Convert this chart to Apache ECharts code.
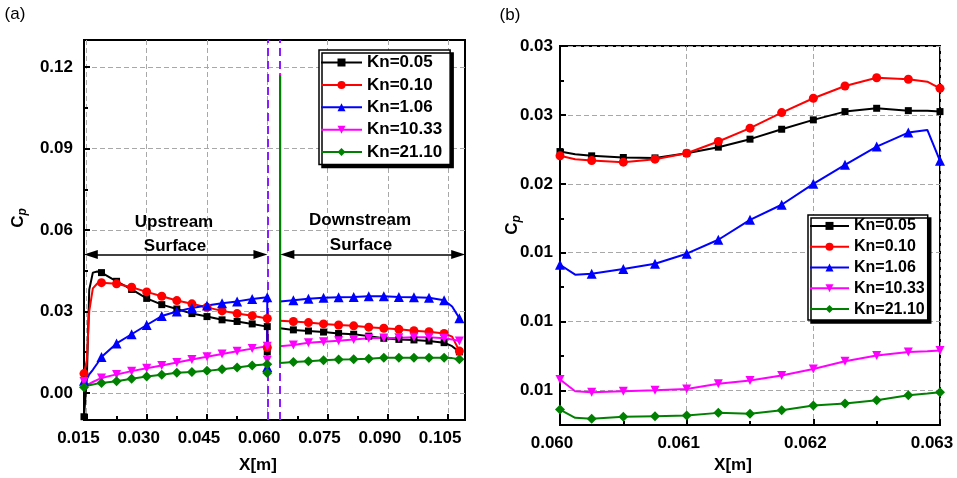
<!DOCTYPE html>
<html>
<head>
<meta charset="utf-8">
<script src="https://cdn.jsdelivr.net/npm/echarts@6/dist/echarts.min.js"></script>
<style>
  html, body { margin: 0; padding: 0; background: #fff; }
  #chart { width: 957px; height: 478px; }
</style>
</head>
<body>
<div id="chart"></div>
<script>
const FONT = 'Liberation Sans, Arial, sans-serif';

const names = ['Kn=0.05', 'Kn=0.10', 'Kn=1.06', 'Kn=10.33', 'Kn=21.10'];
const colors = ['#000000', '#ff0000', '#0000ff', '#ff00ff', '#008000'];
const symbols = ['rect', 'circle', 'triangle', 'path://M0,0L10,0L5,9Z', 'diamond'];
const symbolSizes = [7, 9, 10, 9, 10];

// panel (a) upstream surface
const upX = [0.0144, 0.0151, 0.0157, 0.0166, 0.0177, 0.01875, 0.0225, 0.02625, 0.030, 0.03375, 0.0375, 0.04125, 0.045, 0.04875, 0.0525, 0.05625, 0.060, 0.060];
const upMark = [1, 0, 0, 0, 0, 1, 1, 1, 1, 1, 1, 1, 1, 1, 1, 1, 1, 1];
const upKn005 = [-0.0088, 0.005, 0.038, 0.0443, 0.0447, 0.0443, 0.0411, 0.0381, 0.0348, 0.0325, 0.0309, 0.0292, 0.0281, 0.0269, 0.0263, 0.0254, 0.0244, 0.0151];
const upKn010 = [0.0071, 0.012, 0.030, 0.0385, 0.0403, 0.0406, 0.0402, 0.0389, 0.0372, 0.0356, 0.0340, 0.0328, 0.0315, 0.0302, 0.0292, 0.0284, 0.0274, 0.0167];
const upKn106 = [0.0045, 0.005, 0.0068, 0.0085, 0.0108, 0.0132, 0.0182, 0.0216, 0.0250, 0.0283, 0.0300, 0.0313, 0.0322, 0.0330, 0.0337, 0.0346, 0.0352, 0.0095];
const upKn1033 = [0.0042, 0.0033, 0.0033, 0.0040, 0.0048, 0.0055, 0.0068, 0.0080, 0.0091, 0.0101, 0.0112, 0.0123, 0.0133, 0.0143, 0.0153, 0.0163, 0.0172, 0.0120];
const upKn2110 = [0.0021, 0.0025, 0.0028, 0.0031, 0.0034, 0.0036, 0.0043, 0.0052, 0.0060, 0.0067, 0.0074, 0.0077, 0.0081, 0.0087, 0.0093, 0.0101, 0.0105, 0.0073];

// panel (a) downstream surface
const downX = [0.0632, 0.0632, 0.0665, 0.07025, 0.074, 0.07775, 0.0815, 0.08525, 0.089, 0.09275, 0.0965, 0.10025, 0.104, 0.106, 0.1078];
const downMark = [0, 0, 1, 1, 1, 1, 1, 1, 1, 1, 1, 1, 1, 0, 1];
const downKn005 = [null, 0.0238, 0.0232, 0.0228, 0.0224, 0.0219, 0.0216, 0.0209, 0.0201, 0.0197, 0.0195, 0.0191, 0.0185, 0.0172, 0.0151];
const downKn010 = [null, 0.0266, 0.0263, 0.0259, 0.0254, 0.0250, 0.0247, 0.0242, 0.0238, 0.0234, 0.0229, 0.0225, 0.0219, 0.0207, 0.0154];
const downKn106 = [null, 0.0337, 0.0341, 0.0347, 0.0350, 0.0352, 0.0353, 0.0356, 0.0356, 0.0353, 0.0352, 0.0350, 0.0341, 0.0318, 0.0275];
const downKn1033 = [0.1178, 0.0172, 0.0176, 0.0185, 0.0188, 0.0192, 0.0197, 0.0201, 0.0202, 0.0203, 0.0205, 0.0205, 0.0201, 0.0197, 0.0191];
const downKn2110 = [0.1170, 0.0110, 0.0114, 0.0116, 0.0120, 0.0123, 0.0124, 0.0126, 0.0129, 0.0129, 0.0129, 0.0129, 0.0129, 0.0128, 0.0124];

// panel (b) zoom 0.060 - 0.063
const bX = [0.060, 0.06012, 0.06025, 0.0605, 0.06075, 0.061, 0.06125, 0.0615, 0.06175, 0.062, 0.06225, 0.0625, 0.06275, 0.0629, 0.063];
const bMark = [1, 0, 1, 1, 1, 1, 1, 1, 1, 1, 1, 1, 1, 0, 1];
const bKn005 = [0.02234, 0.02215, 0.02203, 0.02191, 0.02188, 0.02222, 0.02266, 0.02324, 0.02396, 0.02464, 0.02524, 0.02548, 0.02531, 0.0253, 0.02524];
const bKn010 = [0.02203, 0.02179, 0.02169, 0.02157, 0.02179, 0.02222, 0.02307, 0.02404, 0.02517, 0.02621, 0.0271, 0.0277, 0.02759, 0.02741, 0.02693];
const bKn106 = [0.01413, 0.01341, 0.01348, 0.01382, 0.0142, 0.01493, 0.01594, 0.01739, 0.01848, 0.02, 0.02138, 0.0227, 0.02372, 0.02391, 0.02167];
const bKn1033 = [0.0058, 0.00495, 0.00488, 0.00495, 0.00502, 0.00512, 0.00549, 0.00573, 0.00609, 0.00657, 0.00712, 0.00754, 0.0078, 0.00785, 0.0079];
const bKn2110 = [0.00362, 0.00302, 0.00295, 0.00309, 0.00314, 0.00319, 0.00338, 0.00331, 0.00357, 0.00391, 0.00406, 0.0043, 0.00466, 0.00478, 0.00488];

// axes
const aXRange = [0.0144, 0.1092];
const aYRange = [-0.01, 0.13];
const aXMajor = [0.015, 0.030, 0.045, 0.060, 0.075, 0.090, 0.105];
const aXMinor = [0.0225, 0.0375, 0.0525, 0.0675, 0.0825, 0.0975];
const aYMajor = [0.00, 0.03, 0.06, 0.09, 0.12];
const aYMinor = [0.015, 0.045, 0.075, 0.105];
const bXRange = [0.060, 0.063];
const bYRange = [0.0025, 0.030];
const bXMajor = [0.060, 0.061, 0.062, 0.063];
const bXMinor = [0.0605, 0.0615, 0.0625];
const bYMajor = [0.005, 0.010, 0.015, 0.020, 0.025, 0.030];
const bYMinor = [0.0075, 0.0125, 0.0175, 0.0225, 0.0275];

// annotations in panel (a)
const stepX = [0.0600, 0.0631];
const arrowY = 0.051;
const arrowInset = 0.0017;

const upAll = [upKn005, upKn010, upKn106, upKn1033, upKn2110];
const downAll = [downKn005, downKn010, downKn106, downKn1033, downKn2110];
const bAll = [bKn005, bKn010, bKn106, bKn1033, bKn2110];

function buildData(xs, ys, marks) {
  return xs.map((x, i) => {
    const item = { value: [x, ys[i]] };
    if (!marks[i]) item.symbol = 'none';
    return item;
  });
}

function labelOpt(ticks, digits, margin, shift) {
  return {
    customValues: ticks,
    formatter: v => v.toFixed(digits),
    color: '#000',
    fontFamily: FONT,
    fontWeight: 'bold',
    fontSize: 17,
    margin: margin,
    padding: shift ? [0, shift, 0, 0] : 0
  };
}

function majorAxis(dim, grid, range, ticks, label) {
  return {
    type: 'value',
    gridIndex: grid,
    position: dim === 'x' ? 'bottom' : 'left',
    min: range[0],
    max: range[1],
    axisLine: { show: true, onZero: false, lineStyle: { color: '#000', width: 2 } },
    axisTick: { show: true, inside: true, length: 6, customValues: ticks, lineStyle: { color: '#000', width: 2 } },
    axisLabel: label,
    splitLine: { show: true, lineStyle: { color: '#a8a8a8', width: 1, type: [5, 3] } }
  };
}

function minorAxis(dim, grid, range, ticks) {
  return {
    type: 'value',
    gridIndex: grid,
    position: dim === 'x' ? 'bottom' : 'left',
    offset: 0,
    min: range[0],
    max: range[1],
    axisLine: { show: false, onZero: false },
    axisTick: { show: true, inside: true, length: 4, customValues: ticks, lineStyle: { color: '#000', width: 2 } },
    axisLabel: { show: false },
    splitLine: { show: false }
  };
}

const series = [];

// dashed step lines, kept under the curves
series.push({
  type: 'line',
  xAxisIndex: 0,
  yAxisIndex: 0,
  z: 1,
  data: [],
  markLine: {
    silent: true,
    z: 1,
    symbol: 'none',
    label: { show: false },
    lineStyle: { color: '#8a1cff', width: 2, type: [8, 5] },
    data: stepX.map(x => [{ coord: [x, aYRange[0]] }, { coord: [x, aYRange[1]] }])
  }
});

names.forEach((name, i) => {
  const data = buildData(upX, upAll[i], upMark)
    .concat([{ value: [0.0616, null] }])
    .concat(buildData(downX, downAll[i], downMark));
  series.push({
    name: name,
    type: 'line',
    xAxisIndex: 0,
    yAxisIndex: 0,
    z: 3,
    data: data,
    symbol: symbols[i],
    symbolSize: symbolSizes[i],
    color: colors[i],
    lineStyle: { width: 2, color: colors[i] },
    itemStyle: { color: colors[i] },
    connectNulls: false
  });
});
names.forEach((name, i) => {
  series.push({
    name: name,
    type: 'line',
    xAxisIndex: 2,
    yAxisIndex: 2,
    z: 3,
    data: buildData(bX, bAll[i], bMark),
    symbol: symbols[i],
    symbolSize: symbolSizes[i],
    color: colors[i],
    lineStyle: { width: 2, color: colors[i] },
    itemStyle: { color: colors[i] }
  });
});

// surface arrows
series[1].markLine = {
  silent: true,
  symbol: ['triangle', 'triangle'],
  symbolSize: [9, 14],
  label: { show: false },
  lineStyle: { color: '#000', width: 1.5, type: 'solid' },
  data: [
    [{ coord: [aXRange[0] + arrowInset, arrowY] }, { coord: [stepX[0] - arrowInset, arrowY] }],
    [{ coord: [stepX[1] + 0.0002 + arrowInset, arrowY] }, { coord: [aXRange[1] - arrowInset, arrowY] }]
  ]
};

function legendOpt(left, top, fontSize, itemWidth, gap, pad) {
  return {
    show: true,
    orient: 'vertical',
    left: left,
    top: top,
    data: names,
    selectedMode: false,
    itemWidth: itemWidth,
    itemHeight: 10,
    itemGap: gap,
    padding: pad,
    backgroundColor: '#fff',
    borderColor: '#000',
    borderWidth: 1.5,
    borderRadius: 0,
    shadowColor: '#000',
    shadowBlur: 0,
    shadowOffsetX: 3,
    shadowOffsetY: 3,
    textStyle: { color: '#000', fontFamily: FONT, fontWeight: 'bold', fontSize: fontSize, lineHeight: fontSize + 1 }
  };
}

function txt(x, y, text, size, weight) {
  return {
    type: 'text',
    x: x,
    y: y,
    z: 100,
    style: {
      text: text,
      fill: '#000',
      font: (weight || 'bold') + ' ' + size + 'px ' + FONT,
      align: 'center',
      verticalAlign: 'middle'
    }
  };
}

function cpLabel(x, y) {
  return {
    type: 'text',
    x: x,
    y: y,
    rotation: Math.PI / 2,
    z: 100,
    style: {
      text: '{c|C}{p|p}',
      align: 'center',
      verticalAlign: 'middle',
      rich: {
        c: { fill: '#000', fontFamily: FONT, fontWeight: 'bold', fontSize: 17, lineHeight: 22 },
        p: { fill: '#000', fontFamily: FONT, fontWeight: 'bold', fontStyle: 'italic', fontSize: 12, lineHeight: 12, verticalAlign: 'bottom' }
      }
    }
  };
}

const option = {
  animation: false,
  backgroundColor: '#fff',
  grid: [
    { left: 84, right: 492, top: 40, bottom: 58, show: true, borderColor: '#000', borderWidth: 2, backgroundColor: 'transparent' },
    { left: 560, right: 17, top: 46, bottom: 53, show: true, borderColor: '#000', borderWidth: 2, backgroundColor: 'transparent' }
  ],
  xAxis: [
    majorAxis('x', 0, aXRange, aXMajor, labelOpt(aXMajor, 3, 10, 16)),
    minorAxis('x', 0, aXRange, aXMinor),
    majorAxis('x', 1, bXRange, bXMajor, labelOpt(bXMajor, 3, 10, 16)),
    minorAxis('x', 1, bXRange, bXMinor)
  ],
  yAxis: [
    majorAxis('y', 0, aYRange, aYMajor, labelOpt(aYMajor, 2, 11, 0)),
    minorAxis('y', 0, aYRange, aYMinor),
    majorAxis('y', 1, bYRange, bYMajor, labelOpt(bYMajor, 2, 7, 0)),
    minorAxis('y', 1, bYRange, bYMinor)
  ],
  legend: [
    legendOpt(319, 50, 17, 41, 4.4, [3.5, 8, 3.5, 1]),
    legendOpt(808, 215, 16, 39, 3.8, [2.4, 3, 2.4, 1])
  ],
  graphic: [
    txt(15, 14, '(a)', 17, 'normal'),
    txt(510, 15, '(b)', 17, 'normal'),
    txt(258, 465, 'X[m]', 17),
    txt(733, 465, 'X[m]', 17),
    cpLabel(18, 218),
    cpLabel(512, 225),
    txt(174, 222, 'Upstream', 17),
    txt(175, 246, 'Surface', 17),
    txt(360, 220, 'Downstream', 17),
    txt(361, 245, 'Surface', 17)
  ],
  series: series
};

const chart = echarts.init(document.getElementById('chart'), null, { renderer: 'canvas' });
chart.setOption(option);
</script>
</body>
</html>
